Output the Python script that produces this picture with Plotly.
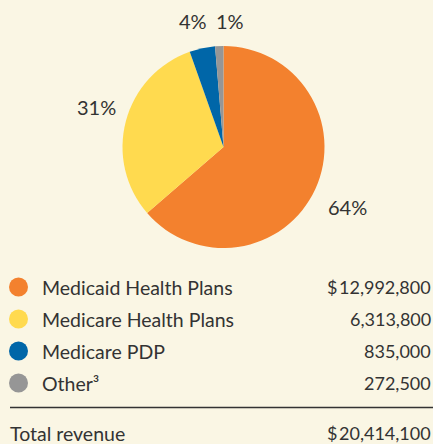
import plotly.graph_objects as go

categorias = ['Medicaid Health Plans', 'Medicare Health Plans', 'Medicare PDP', 'Other³']
receitas = [12992800, 6313800, 835000, 272500]
total = 20414100
cores = ['#F3812E', '#FFDA4F', '#0066A8', '#969696']

fundo = '#FAF6E4'
texto = '#333333'
fonte = 'Lato'

# posicoes (px) dos rotulos de porcentagem, na ordem das fatias
pos_rotulos = [(347, 207), (96, 107), (193, 21), (230, 21)]

W, H = 433, 444
cx, cy, r = 223.5, 147, 101

fig = go.Figure()

fig.add_trace(go.Pie(
    values=receitas,
    labels=categorias,
    marker=dict(colors=cores, line=dict(width=0)),
    sort=False,
    direction='clockwise',
    rotation=0,
    textinfo='none',
    hoverinfo='label+percent',
    showlegend=False,
    domain=dict(x=[(cx - r) / W, (cx + r) / W], y=[(H - cy - r) / H, (H - cy + r) / H])
))

# marcadores da legenda
linhas_y = [287, 319, 351, 383]
fig.add_trace(go.Scatter(
    x=[18.5] * len(categorias),
    y=linhas_y,
    mode='markers',
    marker=dict(color=cores, size=19),
    hoverinfo='skip',
    showlegend=False
))

tam = 19.5
tam_num = 18
anotacoes = []
soma = sum(receitas)
for i, v in enumerate(receitas):
    px_, py_ = pos_rotulos[i]
    anotacoes.append(dict(
        x=px_, y=py_, xref='x', yref='y',
        text=f'{round(100 * v / soma)}%',
        showarrow=False, xanchor='center', yanchor='middle',
        font=dict(size=20, color=texto, family=fonte)
    ))

for i, nome in enumerate(categorias):
    anotacoes.append(dict(
        x=40, y=linhas_y[i], xref='x', yref='y', text=nome,
        showarrow=False, xanchor='left', yanchor='middle',
        font=dict(size=tam, color=texto, family=fonte)
    ))
    anotacoes.append(dict(
        x=433, y=linhas_y[i], xref='x', yref='y', text=f'{receitas[i]:,}',
        showarrow=False, xanchor='right', yanchor='middle',
        font=dict(size=tam_num, color=texto, family=fonte)
    ))

anotacoes.append(dict(
    x=325, y=linhas_y[0], xref='x', yref='y', text='$',
    showarrow=False, xanchor='left', yanchor='middle',
    font=dict(size=tam_num, color=texto, family=fonte)
))

# total
anotacoes.append(dict(
    x=8, y=433, xref='x', yref='y', text='Total revenue',
    showarrow=False, xanchor='left', yanchor='middle',
    font=dict(size=tam, color=texto, family=fonte)
))
anotacoes.append(dict(
    x=325, y=433, xref='x', yref='y', text='$',
    showarrow=False, xanchor='left', yanchor='middle',
    font=dict(size=tam_num, color=texto, family=fonte)
))
anotacoes.append(dict(
    x=433, y=433, xref='x', yref='y', text=f'{total:,}',
    showarrow=False, xanchor='right', yanchor='middle',
    font=dict(size=tam_num, color=texto, family=fonte)
))

fig.update_layout(
    width=W,
    height=H,
    margin=dict(l=0, r=0, t=0, b=0),
    paper_bgcolor=fundo,
    plot_bgcolor='rgba(0,0,0,0)',
    xaxis=dict(range=[0, W], visible=False, fixedrange=True),
    yaxis=dict(range=[H, 0], visible=False, fixedrange=True),
    annotations=anotacoes,
    shapes=[dict(type='line', xref='x', yref='y', x0=10, x1=433, y0=407.5, y1=407.5,
                 line=dict(color=texto, width=1.5))],
    font=dict(family=fonte, color=texto)
)

fig.write_html('out.html', config={'displayModeBar': False},
               post_script="document.body.style.margin='0';document.body.style.overflow='hidden';")
